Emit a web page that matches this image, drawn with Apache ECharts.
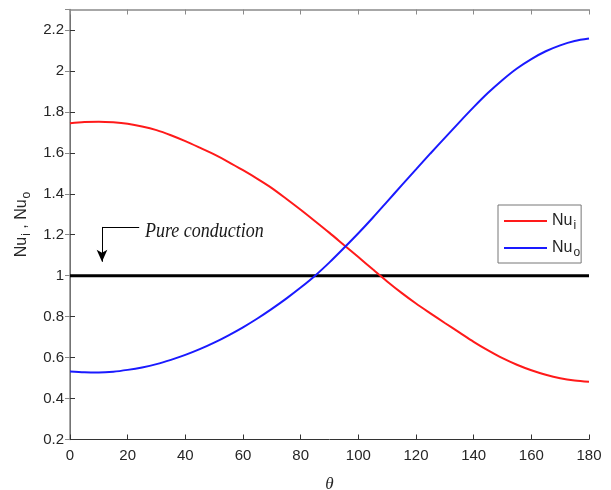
<!DOCTYPE html>
<html>
<head>
<meta charset="utf-8">
<script src="https://cdn.jsdelivr.net/npm/echarts@6/dist/echarts.min.js"></script>
<style>
  html, body { margin: 0; padding: 0; background: #fff; }
  #chart { width: 611px; height: 490px; }
</style>
</head>
<body>
<div id="chart"></div>
<script>
// Angle in degrees
const theta = [0, 5, 10, 15, 20, 25, 30, 35, 40, 45, 50, 55, 60, 65, 70, 75, 80, 85, 90,
  95, 100, 105, 110, 115, 120, 125, 130, 135, 140, 145, 150, 155, 160, 165, 170, 175, 180];
// Inner-wall Nusselt number
const nuInner = [1.745, 1.750, 1.752, 1.749, 1.742, 1.729, 1.711, 1.686, 1.657, 1.625, 1.592, 1.555, 1.515,
  1.473, 1.428, 1.376, 1.322, 1.266, 1.209, 1.150, 1.091, 1.031, 0.972, 0.916, 0.864, 0.816, 0.769,
  0.723, 0.677, 0.635, 0.597, 0.565, 0.538, 0.516, 0.499, 0.488, 0.482];
// Outer-wall Nusselt number
const nuOuter = [0.532, 0.528, 0.527, 0.531, 0.540, 0.552, 0.568, 0.589, 0.613, 0.641, 0.673, 0.709, 0.748,
  0.791, 0.838, 0.888, 0.942, 1.000, 1.065, 1.135, 1.207, 1.283, 1.362, 1.441, 1.519, 1.597, 1.673,
  1.749, 1.823, 1.893, 1.956, 2.012, 2.058, 2.096, 2.125, 2.146, 2.158];
// Pure conduction reference level
const conductionTheta = [0, 180];
const conductionNu = [1, 1];

const seriesNames = ['Nu_i', 'Nu_o'];
const noteText = 'Pure conduction';
const noteAt = [26, 1.214];
// Arrow pointing from the note down to the conduction line
const arrowStart = [24, 1.238];
const arrowCorner = [11.1, 1.238];
const arrowTip = [11.1, 1.068];

const labelFont = '"Liberation Sans", Arial, sans-serif';
const textColor = '#262626';
const darkAxis = '#333333';
const lightAxis = '#8a8a8a';

function pairs(xs, ys) { return xs.map((x, i) => [x, ys[i]]); }
function subName(n) {
  const parts = n.split('_');
  return '{a|' + parts[0] + '}{b|' + parts[1] + '}';
}

const subRich = {
  a: { fontSize: 16, fontFamily: labelFont, color: textColor, lineHeight: 22 },
  b: { fontSize: 12, fontFamily: labelFont, color: textColor, lineHeight: 10, verticalAlign: 'bottom', padding: [0, 0, 0, 1] },
  c: { fontSize: 16, fontFamily: labelFont, color: textColor, lineHeight: 22 }
};

const chart = echarts.init(document.getElementById('chart'), null, { renderer: 'canvas' });

const xBase = {
  type: 'value', min: 0, max: 180, interval: 20,
  splitLine: { show: false },
  axisTick: { inside: true, length: 5, lineStyle: { color: darkAxis } }
};
const yBase = {
  type: 'value', min: 0.2, max: 2.3, interval: 0.2,
  splitLine: { show: false },
  axisTick: { inside: true, length: 5, lineStyle: { color: darkAxis } }
};

chart.setOption({
  animation: false,
  backgroundColor: '#ffffff',
  grid: { left: 70, right: 22, top: 9.5, bottom: 50.5, containLabel: false, outerBoundsMode: 'none' },
  legend: {
    data: seriesNames,
    orient: 'vertical',
    left: 498, top: 205,
    padding: [8, 1, 4, 5],
    itemWidth: 43, itemHeight: 14, itemGap: 8,
    borderColor: '#777', borderWidth: 1, backgroundColor: '#fff',
    itemStyle: { opacity: 0 },
    formatter: subName,
    textStyle: { rich: subRich }
  },
  xAxis: [
    Object.assign({}, xBase, {
      position: 'bottom',
      name: 'θ', nameLocation: 'middle', nameGap: 37,
      nameTextStyle: { fontFamily: '"Liberation Serif", serif', fontStyle: 'italic', fontSize: 17, color: textColor },
      axisLine: { lineStyle: { color: darkAxis, width: 1 } },
      axisLabel: { fontFamily: labelFont, fontSize: 15, color: textColor, margin: 9 }
    }),
    Object.assign({}, xBase, {
      position: 'top',
      axisLine: { lineStyle: { color: lightAxis, width: 1.5 } },
      axisTick: { inside: true, length: 5, lineStyle: { color: lightAxis } },
      axisLabel: { show: false }
    })
  ],
  yAxis: [
    Object.assign({}, yBase, {
      position: 'left',
      name: '{a|Nu}{b|i}{c| , Nu}{b|o}', nameLocation: 'middle', nameGap: 35, nameRotate: 90,
      nameTextStyle: { rich: subRich },
      axisLine: { lineStyle: { color: darkAxis, width: 1 } },
      axisLabel: { fontFamily: labelFont, fontSize: 15, color: textColor, margin: 6,
        showMaxLabel: false,
        formatter: v => (Math.round(v * 10) / 10).toString() }
    }),
    Object.assign({}, yBase, {
      position: 'right',
      axisLine: { lineStyle: { color: lightAxis, width: 1.5 } },
      axisTick: { inside: true, length: 5, lineStyle: { color: lightAxis } },
      axisLabel: { show: false }
    })
  ],
  series: [
    {
      name: 'Pure conduction',
      type: 'line',
      data: pairs(conductionTheta, conductionNu),
      symbol: 'none',
      lineStyle: { color: '#000', width: 3 },
      z: 3,
      markLine: {
        silent: true,
        animation: false,
        label: { show: false },
        lineStyle: { color: '#000', width: 1, type: 'solid' },
        data: [
          [{ coord: arrowStart, symbol: 'none' }, { coord: arrowCorner, symbol: 'none' }],
          [{ coord: arrowCorner, symbol: 'none' }, { coord: arrowTip, symbol: 'arrow', symbolSize: [8, 12] }]
        ]
      }
    },
    {
      name: 'Nu_i',
      type: 'line',
      data: pairs(theta, nuInner),
      smooth: 0.3,
      symbol: 'none',
      lineStyle: { color: '#ff1a1a', width: 2 },
      itemStyle: { color: '#ff1a1a' },
      z: 4
    },
    {
      name: 'Nu_o',
      type: 'line',
      data: pairs(theta, nuOuter),
      smooth: 0.3,
      symbol: 'none',
      lineStyle: { color: '#1a1aff', width: 2 },
      itemStyle: { color: '#1a1aff' },
      z: 4
    }
  ]
});

// Place the note text next to the arrow, in data coordinates
const notePx = chart.convertToPixel({ gridIndex: 0 }, noteAt);
chart.setOption({
  graphic: [{
    type: 'text',
    x: notePx[0], y: notePx[1],
    scaleY: 1.15,
    silent: true,
    style: {
      text: noteText,
      font: 'italic 18px "Liberation Serif", "Times New Roman", serif',
      fill: '#1a1a1a',
      textAlign: 'left',
      textVerticalAlign: 'middle'
    }
  }]
});
</script>
</body>
</html>
